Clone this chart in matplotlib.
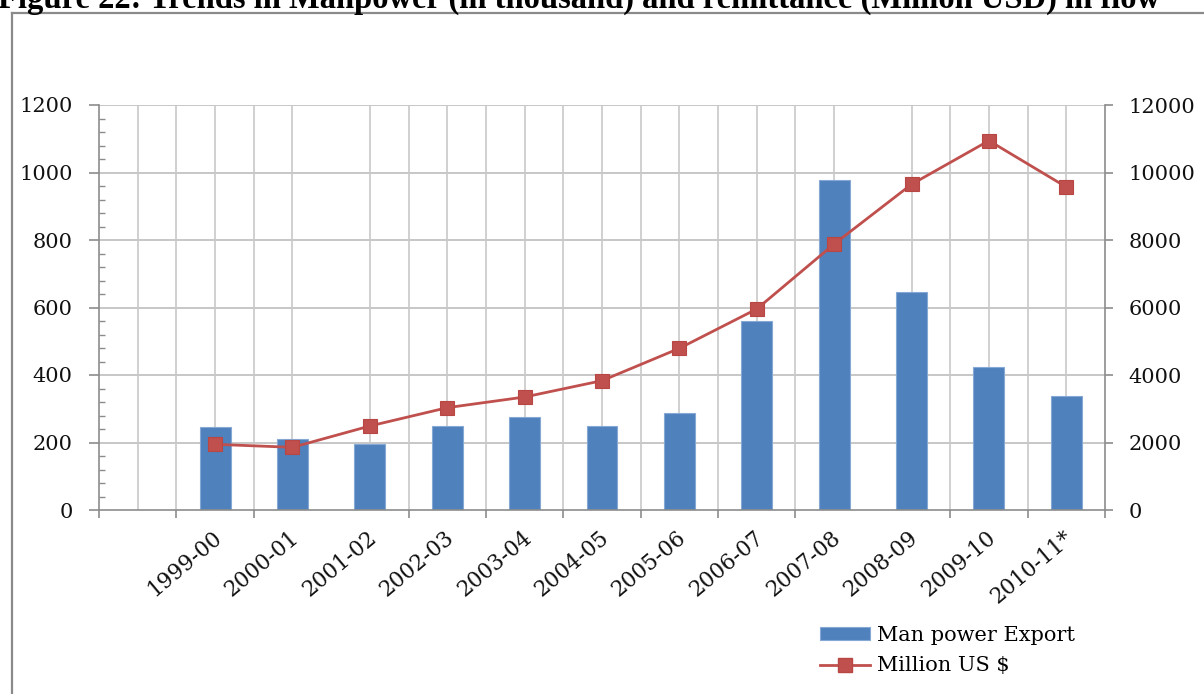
import matplotlib
matplotlib.use("Agg")
import matplotlib.pyplot as plt
import matplotlib.transforms as mtransforms
from matplotlib.lines import Line2D
from matplotlib.patches import Patch
from matplotlib.ticker import FixedLocator, MultipleLocator

# ---- data ----
periods = ["1999-00", "2000-01", "2001-02", "2002-03", "2003-04", "2004-05",
           "2005-06", "2006-07", "2007-08", "2008-09", "2009-10", "2010-11*"]
manpower_thousand = [247, 211, 196, 249, 275, 249, 288, 561, 978, 646, 424, 338]
remittance_musd = [1946, 1857, 2489, 3032, 3348, 3832, 4790, 5956, 7881, 9650, 10943, 9570]

title_text = "Figure 22: Trends in Manpower (in thousand) and remittance (Million USD) in flow"
bar_label = "Man power Export"
line_label = "Million US $"

BLUE = "#4F81BD"
RED = "#C0504D"
GRID = "#BEBEBE"
AXIS = "#8C8C8C"
TEXT = "#111111"
SERIF = ["DejaVu Serif"]

W, H = 1204, 694
fig = plt.figure(figsize=(W / 100, H / 100), dpi=100)

# frame around the chart area (runs off the right and bottom edges)
fig.add_artist(Line2D([11.5 / W, 11.5 / W], [0, 1 - 12.5 / H], color="#8A8A8A", lw=1.6))
fig.add_artist(Line2D([11.5 / W, 1.0], [1 - 12.5 / H, 1 - 12.5 / H], color="#8A8A8A", lw=1.6))

fig.text(-2 / W, 1 - 8 / H, title_text, fontfamily=["Liberation Serif"],
         fontweight="bold", fontsize=23.5, va="baseline", ha="left", color="black")

ax = fig.add_axes([99 / W, 1 - 510 / H, (1105 - 99) / W, 405 / H])
ax2 = ax.twinx()

# first slot is left empty, bars start at position 1
xpos = list(range(1, len(periods) + 1))
ax.set_xlim(-0.5, len(periods) + 0.5)
ax.set_ylim(0, 1200)
ax2.set_ylim(0, 12000)

ax.set_axisbelow(True)
for yv in range(200, 1201, 200):
    ax.axhline(yv, color=GRID, lw=1.2, zorder=0)
vgrid = [0, 0.5, 1, 1.5, 2, 3, 3.5, 4, 4.5, 5, 5.5, 6, 6.5, 7, 7.5, 8, 8.5,
         9, 10, 10.5, 11, 11.5, 12]
for xv in vgrid:
    ax.axvline(xv, color="#C8C8C8", lw=1.2, zorder=0)

ax.bar(xpos, manpower_thousand, width=0.4, color=BLUE, edgecolor="#86A8D4",
       linewidth=0.8, zorder=2)
ax2.plot(xpos, remittance_musd, color=RED, lw=2, marker="s", ms=10,
         mfc=RED, mec="#B84744", mew=0.8, zorder=3)

for a in (ax, ax2):
    for s in a.spines.values():
        s.set_visible(False)
ax.spines["left"].set_visible(True)
ax.spines["bottom"].set_visible(True)
ax2.spines["right"].set_visible(True)
for s in (ax.spines["left"], ax.spines["bottom"], ax2.spines["right"]):
    s.set_color(AXIS)
    s.set_linewidth(1.2)

# left axis
ax.yaxis.set_major_locator(MultipleLocator(200))
ax.yaxis.set_minor_locator(MultipleLocator(40))
ax.tick_params(axis="y", which="major", direction="out", length=7, width=1.2,
               color=AXIS, pad=12, labelsize=15, labelcolor=TEXT)
ax.tick_params(axis="y", which="minor", direction="in", length=4.5, width=1.0, color=AXIS)

# right axis
ax2.yaxis.set_major_locator(MultipleLocator(2000))
ax2.tick_params(axis="y", which="major", direction="out", length=6, width=1.2,
                color=AXIS, pad=11, labelsize=15, labelcolor=TEXT)

# category axis: tick marks at slot boundaries, labels at slot centres
ax.xaxis.set_minor_locator(FixedLocator([-0.5, 0.5, 1.5, 3.5, 4.5, 5.5, 6.5, 7.5,
                                         8.5, 10.5, 11.5, 12.5]))
ax.tick_params(axis="x", which="minor", direction="out", length=5.5, width=1.2, color=AXIS)
ax.set_xticks(xpos)
ax.set_xticklabels(periods, rotation=40, ha="right", va="top", rotation_mode="anchor")
ax.tick_params(axis="x", which="major", length=0, pad=12, labelsize=15.5, labelcolor=TEXT)
shift = mtransforms.ScaledTranslation(-3 / 100, 0, fig.dpi_scale_trans)
for lbl in ax.get_xticklabels():
    lbl.set_transform(lbl.get_transform() + shift)

for lbl in ax.get_xticklabels() + ax.get_yticklabels() + ax2.get_yticklabels():
    lbl.set_fontfamily(SERIF)

handles = [Patch(facecolor=BLUE, edgecolor="#86A8D4", linewidth=0.8),
           Line2D([], [], color=RED, lw=2, marker="s", ms=10, mfc=RED, mec="#B84744")]
fig.legend(handles, [bar_label, line_label], loc="upper left",
           bbox_to_anchor=(820 / W, 1 - 626 / H), frameon=False,
           prop={"family": SERIF, "size": 15}, handlelength=2.4, handleheight=0.55,
           handletextpad=0.35, labelspacing=0.55, borderpad=0, borderaxespad=0)

fig.savefig("out.png", dpi=100)
